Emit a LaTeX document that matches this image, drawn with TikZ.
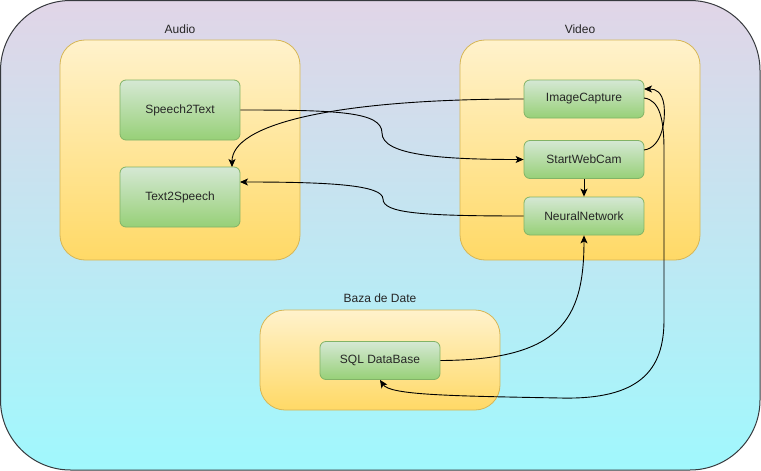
\documentclass[tikz,border=0pt]{standalone}
\usepackage{fontspec}
\setmainfont{Liberation Sans}
\usetikzlibrary{arrows.meta}
\definecolor{outtop}{HTML}{E1D5E7}
\definecolor{outbot}{HTML}{A0F8FD}
\definecolor{ytop}{HTML}{FFF2CC}
\definecolor{ybot}{HTML}{FFD966}
\definecolor{ystroke}{HTML}{D6B656}
\definecolor{gtop}{HTML}{D5E8D4}
\definecolor{gbot}{HTML}{97D077}
\definecolor{gstroke}{HTML}{82B366}
\definecolor{outstroke}{HTML}{36393D}
\tikzset{
  outerbox/.style={draw=outstroke, line width=1pt, top color=outtop, bottom color=outbot, rounded corners=70pt},
  groupbox/.style={draw=ystroke, line width=0.8pt, top color=ytop, bottom color=ybot, rounded corners=25pt},
  compbox/.style={draw=gstroke, line width=0.8pt, top color=gtop, bottom color=gbot, rounded corners=6pt,
    minimum width=120pt, minimum height=38pt, inner sep=0pt, text=black!85, font=\fontsize{12}{14}\selectfont},
  grouplabel/.style={font=\fontsize{12}{14}\selectfont, text=black!85, inner sep=0pt},
  conn/.style={draw=black, line width=0.9pt, -{Stealth[length=8pt,width=7pt,inset=2pt]}},
}
\begin{document}
\begin{tikzpicture}[x=1pt,y=-1pt]
\useasboundingbox (0,0) rectangle (761,471);
\path[outerbox] (0.5,0.5) rectangle (760,470);
% groups
\path[groupbox] (60,40) rectangle (300,260);
\path[groupbox] (460,40) rectangle (700,260);
\path[groupbox] (260,310) rectangle (500,410);
\node[grouplabel] (laudio) at (180,29) {Audio};
\node[grouplabel] (lvideo) at (580,29) {Video};
\node[grouplabel] (lbaza) at (380,298) {Baza de Date};
% components
\node[compbox, minimum height=60pt] (s2t) at (180,110) {Speech2Text};
\node[compbox, minimum height=60pt] (t2s) at (180,197) {Text2Speech};
\node[compbox] (img) at (584,99) {ImageCapture};
\node[compbox] (cam) at (584,159.5) {StartWebCam};
\node[compbox] (nn) at (584,216) {NeuralNetwork};
\node[compbox] (sql) at (380,360.5) {SQL DataBase};
% connector ends
\coordinate (t2sin) at (232,167);
\coordinate (t2sright) at (240,182);
\coordinate (camout) at (644,150);
\coordinate (imgin) at (644,89);
\coordinate (imgout) at (644,98);
% connectors
\draw[conn] (s2t.east) .. controls (340,110) and (382,112) .. (382,133) .. controls (382,155) and (440,159.5) .. (cam.west);
\draw[conn] (nn.west) .. controls (420,216) and (383,213) .. (383,199) .. controls (383,185) and (330,182) .. (t2sright);
\draw[conn] (img.west) .. controls (330,99) and (232,125) .. (t2sin);
\draw[conn] (camout) .. controls (660,148) and (666,125) .. (664,105) .. controls (662,92) and (656,89) .. (imgin);
\draw[conn] (imgout) .. controls (660,100) and (664,120) .. (664,150) -- (664,320) .. controls (664,370) and (640,400) .. (560,398) .. controls (450,396) and (390,395) .. (sql.south);
\draw[conn] (sql.east) .. controls (560,360) and (584,320) .. (nn.south);
\draw[conn] (cam.south) -- (nn.north);
\end{tikzpicture}
\end{document}
